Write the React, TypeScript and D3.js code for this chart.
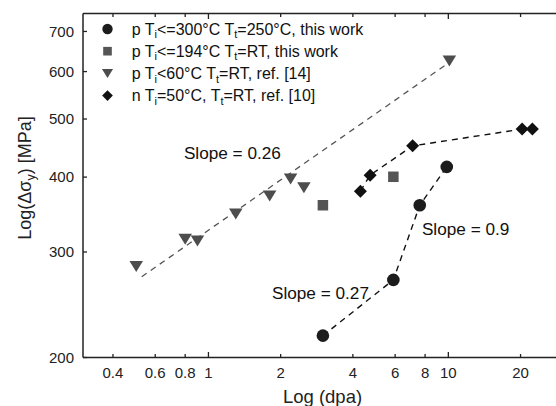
import React from "react";
import * as d3 from "d3";

// ---- data ----
const circleX = [3.0, 5.9, 7.6, 9.85];
const circleY = [217.5, 269.5, 359, 416];
const squareX = [3.0, 5.9];
const squareY = [359, 400.5];
const triX = [0.5, 0.8, 0.9, 1.3, 1.8, 2.2, 2.5, 10.1];
const triY = [283.6, 315, 313, 347, 372, 397, 384, 625];
const diamondX = [4.3, 4.72, 7.1, 20.3, 22.4];
const diamondY = [379, 403, 451, 481, 481];
const triFitX = [0.527, 10.0];
const triFitY = [272.8, 620];

const xTicks = [0.4, 0.6, 0.8, 1, 2, 4, 6, 8, 10, 20];
const xMajor = [1, 10];
const yTicks = [200, 300, 400, 500, 600, 700];

const slopeLabels = ["Slope = 0.26", "Slope = 0.9", "Slope = 0.27"];
const slopeX = [0.79, 7.76, 1.84];
const slopeY = [428, 320, 250.4];

const legendLabels = [
  ["p T", "i", "<=300°C T", "t", "=250°C, this work"],
  ["p T", "i", "<=194°C T", "t", "=RT, this work"],
  ["p T", "i", "<60°C T", "t", "=RT, ref. [14]"],
  ["n T", "i", "=50°C, T", "t", "=RT, ref. [10]"],
];

const FONT = "'Liberation Sans', Arial, sans-serif";
const AX = "#222";
const C_CIRCLE = "#1c1c1c";
const C_SQUARE = "#555";
const C_TRI = "#4d4d4d";
const C_DIAM = "#111";

const W = 556;
const H = 406;
const left = 83;
const top = 13.5;
const bottom = 357.5;

const x = d3.scaleLog().domain([0.3, 30]).range([left, left + 2 * 239.9]);
const y = d3.scaleLog().domain([200, 750]).range([bottom, top]);

const zip = (a: number[], b: number[]) => a.map((v, i) => [v, b[i]] as [number, number]);
const lineGen = d3
  .line<[number, number]>()
  .x((d) => x(d[0]))
  .y((d) => y(d[1]));

const triPath = (w: number, h: number) => `M${-w / 2},${-h / 2}L${w / 2},${-h / 2}L0,${h / 2}Z`;
const diamPath = (r: number) => `M0,${-r}L${r},0L0,${r}L${-r},0Z`;

function Marker({ kind, size }: { kind: number; size: number }) {
  if (kind === 0) return <circle r={6.3 * size} fill={C_CIRCLE} />;
  if (kind === 1) {
    const s = 10.5 * size;
    return <rect x={-s / 2} y={-s / 2} width={s} height={s} fill={C_SQUARE} />;
  }
  if (kind === 2) return <path d={triPath(13.5 * size, 11 * size)} fill={C_TRI} />;
  return <path d={diamPath(6.5 * size)} fill={C_DIAM} />;
}

export default function App() {
  const xAxisEnd = 570;
  return (
    <svg
      width={W}
      height={H}
      style={{ position: "absolute", left: 0, top: 0, background: "#fff" }}
      fontFamily={FONT}
    >
      <rect width={W} height={H} fill="#fff" />
      {/* frame */}
      <line x1={left} x2={xAxisEnd} y1={bottom} y2={bottom} stroke={AX} strokeWidth={1.5} />
      <line x1={left} x2={xAxisEnd} y1={top} y2={top} stroke={AX} strokeWidth={1.5} />
      <line x1={left} x2={left} y1={top} y2={bottom} stroke={AX} strokeWidth={1.5} />

      {/* x ticks */}
      {xTicks.map((t) => {
        const len = xMajor.includes(t) ? 5.5 : 3.5;
        return (
          <g key={"xt" + t}>
            <line x1={x(t)} x2={x(t)} y1={bottom} y2={bottom - len} stroke={AX} strokeWidth={1.3} />
            <line x1={x(t)} x2={x(t)} y1={top} y2={top + len} stroke={AX} strokeWidth={1.3} />
            <text x={x(t)} y={378} fontSize={15} textAnchor="middle" fill="#222">
              {String(t)}
            </text>
          </g>
        );
      })}

      {/* y ticks */}
      {yTicks.map((t) => (
        <g key={"yt" + t}>
          <line x1={left} x2={left + 4} y1={y(t)} y2={y(t)} stroke={AX} strokeWidth={1.3} />
          <text x={74} y={y(t) + 5.3} fontSize={15} textAnchor="end" fill="#222">
            {String(t)}
          </text>
        </g>
      ))}

      {/* axis titles */}
      <text x={322.5} y={403} fontSize={18.5} textAnchor="middle" fill="#222">
        Log (dpa)
      </text>
      <text
        transform={`translate(31,178) rotate(-90)`}
        fontSize={18}
        textAnchor="middle"
        fill="#222"
      >
        Log(Δσ
        <tspan fontSize={12.5} dy={4}>
          y
        </tspan>
        <tspan dy={-4}>) [MPa]</tspan>
      </text>

      {/* fit lines */}
      <path
        d={lineGen(zip(triFitX, triFitY)) || ""}
        fill="none"
        stroke="#555"
        strokeWidth={1.3}
        strokeDasharray="6,5"
      />
      <path
        d={lineGen(zip(circleX, circleY)) || ""}
        fill="none"
        stroke="#111"
        strokeWidth={1.4}
        strokeDasharray="6,5"
      />
      <path
        d={lineGen(zip(diamondX, diamondY)) || ""}
        fill="none"
        stroke="#111"
        strokeWidth={1.4}
        strokeDasharray="6,5"
      />

      {/* markers */}
      {zip(triX, triY).map((d, i) => (
        <g key={"tr" + i} transform={`translate(${x(d[0])},${y(d[1])})`}>
          <Marker kind={2} size={1} />
        </g>
      ))}
      {zip(squareX, squareY).map((d, i) => (
        <g key={"sq" + i} transform={`translate(${x(d[0])},${y(d[1])})`}>
          <Marker kind={1} size={1} />
        </g>
      ))}
      {zip(diamondX, diamondY).map((d, i) => (
        <g key={"dm" + i} transform={`translate(${x(d[0])},${y(d[1])})`}>
          <Marker kind={3} size={1} />
        </g>
      ))}
      {zip(circleX, circleY).map((d, i) => (
        <g key={"ci" + i} transform={`translate(${x(d[0])},${y(d[1])})`}>
          <Marker kind={0} size={1} />
        </g>
      ))}

      {/* slope labels */}
      {slopeLabels.map((s, i) => (
        <text key={s} x={x(slopeX[i])} y={y(slopeY[i])} fontSize={17.2} fill="#111">
          {s}
        </text>
      ))}

      {/* legend */}
      {legendLabels.map((parts, i) => {
        const ry = 29 + i * 22.2;
        return (
          <g key={"lg" + i}>
            <g transform={`translate(107.5,${ry})`}>
              <Marker kind={i} size={0.82} />
            </g>
            <text x={131.7} y={ry + 5.7} fontSize={16} fill="#111">
              {parts[0]}
              <tspan fontSize={11} dy={3.5}>
                {parts[1]}
              </tspan>
              <tspan dy={-3.5}>{parts[2]}</tspan>
              <tspan fontSize={11} dy={3.5}>
                {parts[3]}
              </tspan>
              <tspan dy={-3.5}>{parts[4]}</tspan>
            </text>
          </g>
        );
      })}
    </svg>
  );
}
